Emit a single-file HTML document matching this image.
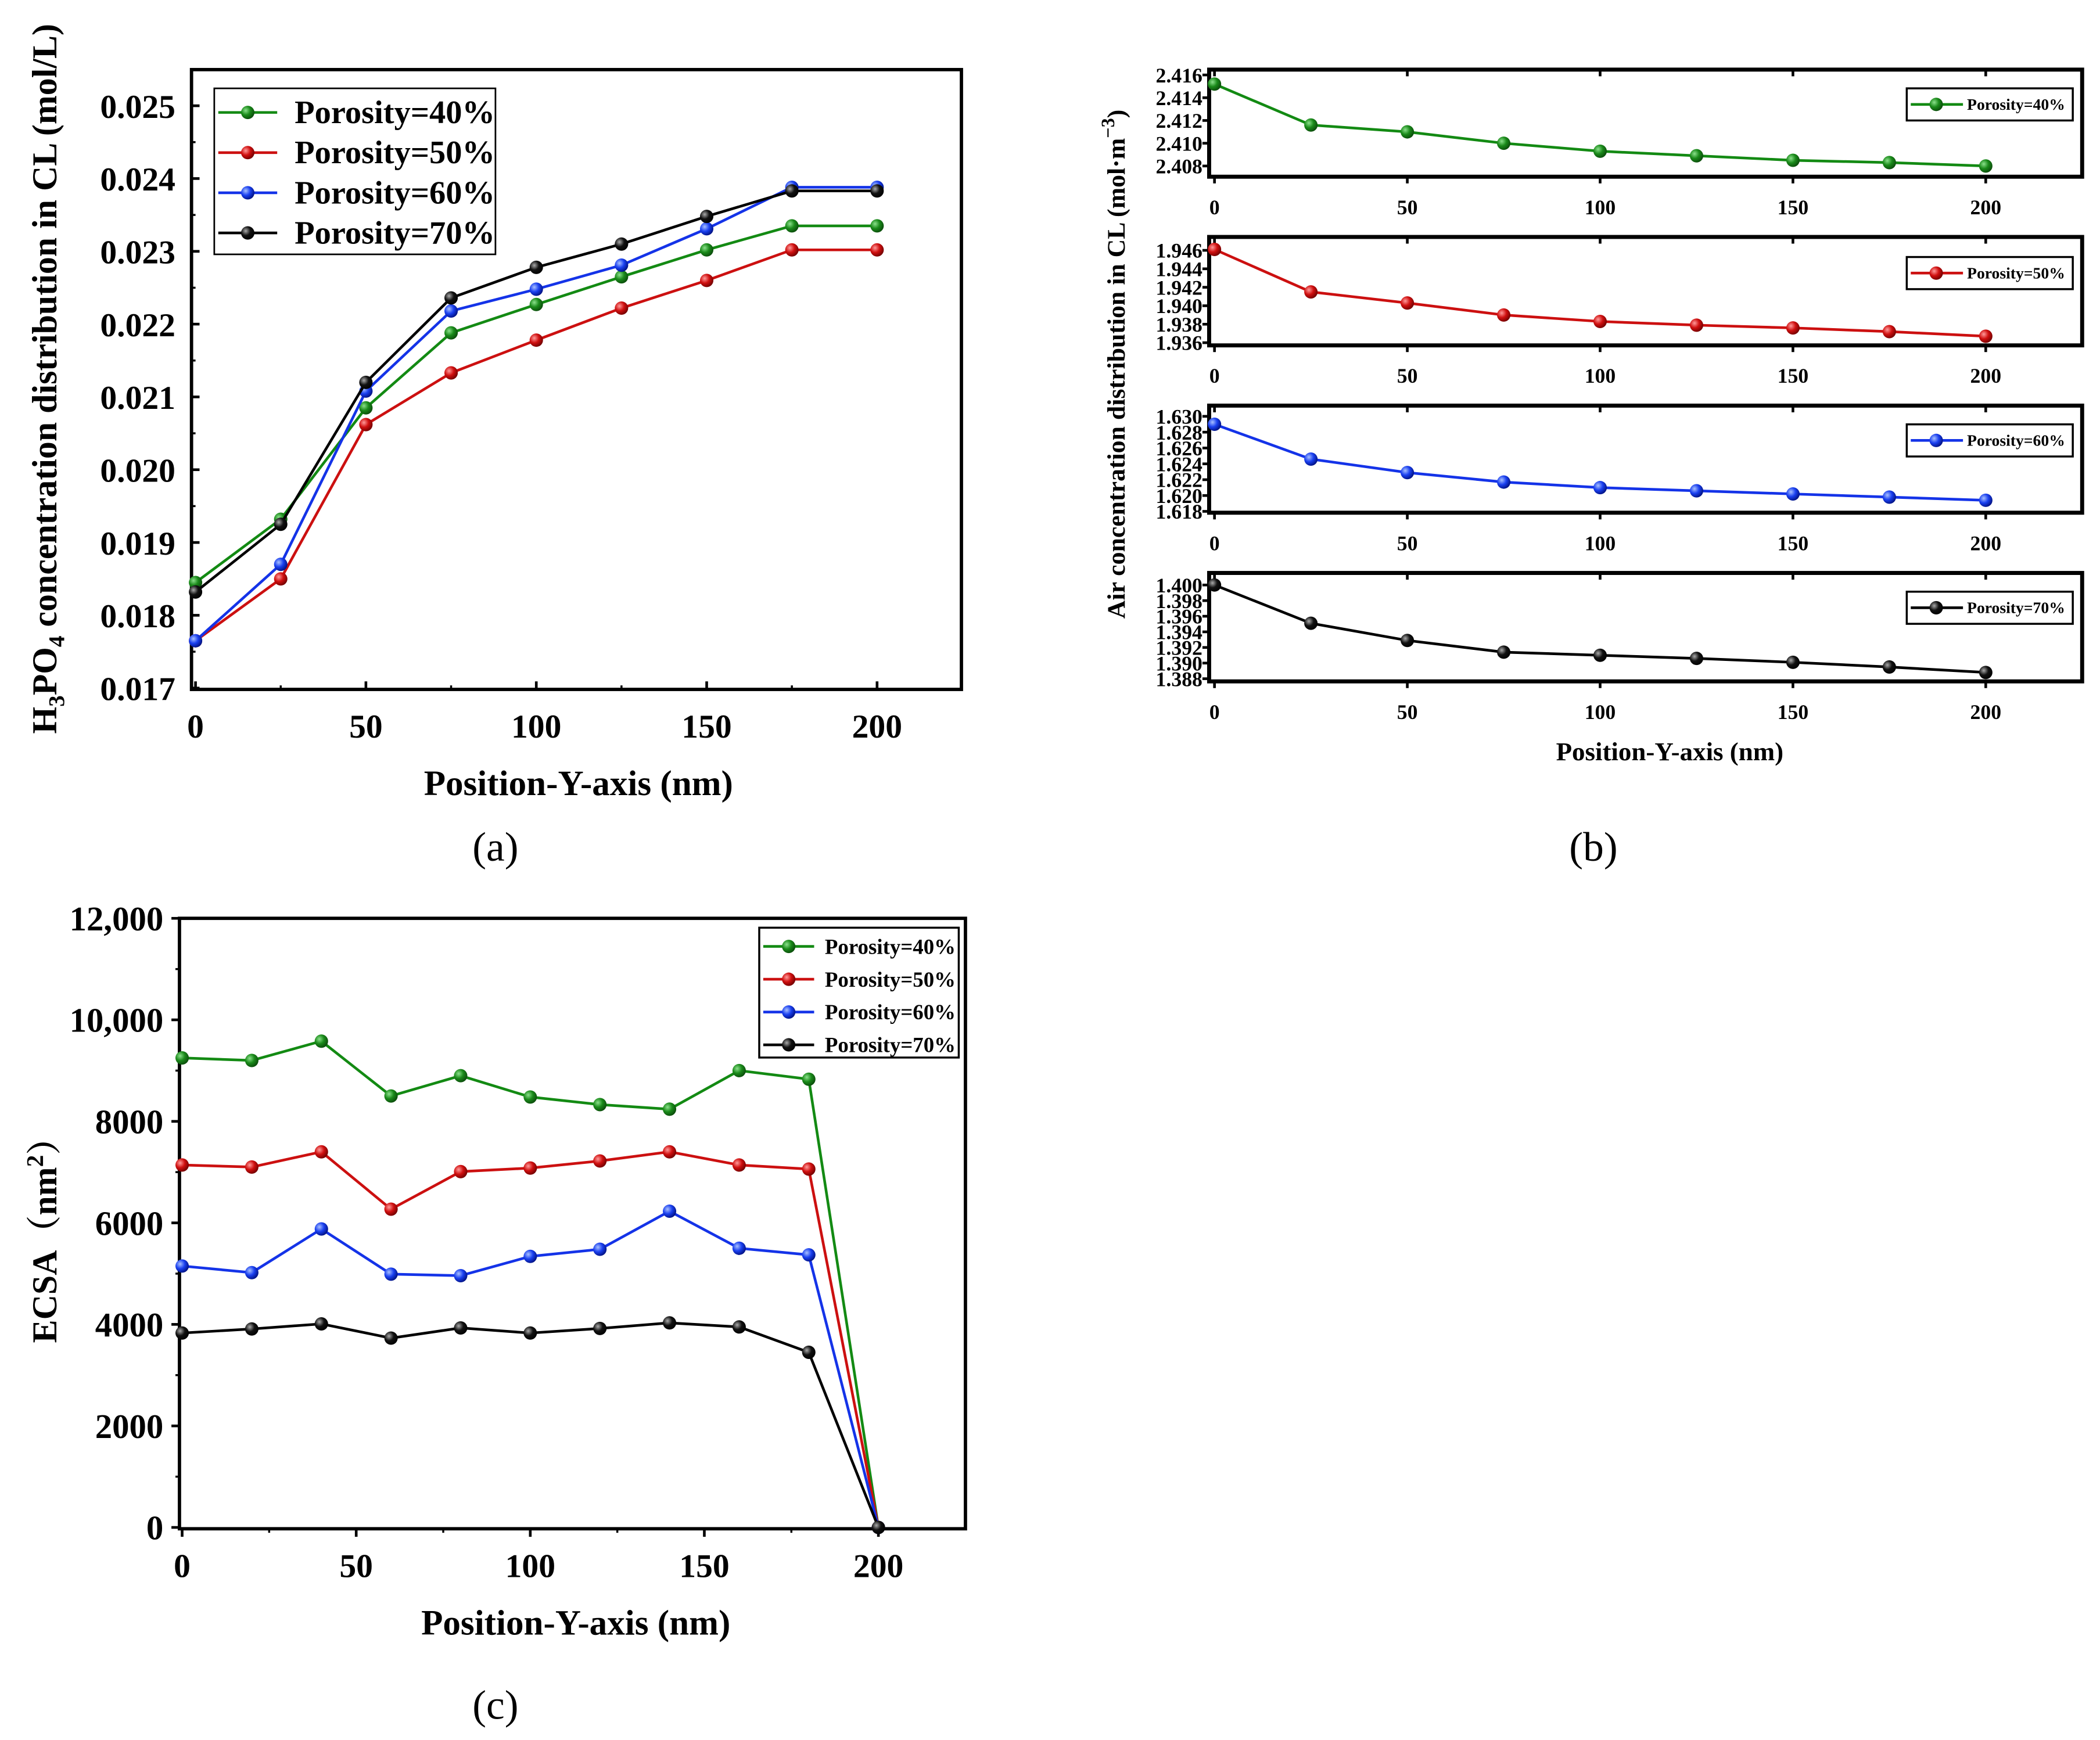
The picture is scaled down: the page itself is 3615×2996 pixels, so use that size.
<!DOCTYPE html>
<html><head><meta charset="utf-8"><style>
html,body{margin:0;padding:0;background:#fff;}
svg{display:block;font-family:"Liberation Serif",serif;font-weight:bold;}
</style></head><body>
<svg id="fig" width="3615" height="2996" viewBox="0 0 1568.3 1299.8" xmlns="http://www.w3.org/2000/svg">
<defs>
<radialGradient id="g-green" cx="0.35" cy="0.35" r="0.7"><stop offset="0" stop-color="#8be08b"/><stop offset="0.5" stop-color="#1a8a1a"/><stop offset="1" stop-color="#0a4a0a"/></radialGradient>
<radialGradient id="g-red" cx="0.35" cy="0.35" r="0.7"><stop offset="0" stop-color="#ff9a9a"/><stop offset="0.5" stop-color="#d01010"/><stop offset="1" stop-color="#700000"/></radialGradient>
<radialGradient id="g-blue" cx="0.35" cy="0.35" r="0.7"><stop offset="0" stop-color="#a8c0ff"/><stop offset="0.5" stop-color="#1a40f0"/><stop offset="1" stop-color="#001080"/></radialGradient>
<radialGradient id="g-black" cx="0.35" cy="0.35" r="0.7"><stop offset="0" stop-color="#aaaaaa"/><stop offset="0.5" stop-color="#111111"/><stop offset="1" stop-color="#000000"/></radialGradient>
</defs>
</svg>
<script>
// ---------- data: panel (a) ----------
const aX = [0, 25, 50, 75, 100, 125, 150, 175, 200];
const aP40 = [0.01845, 0.01932, 0.02085, 0.02188, 0.02227, 0.02265, 0.02302, 0.02335, 0.02335];
const aP50 = [0.01765, 0.01850, 0.02062, 0.02133, 0.02178, 0.02222, 0.02260, 0.02302, 0.02302];
const aP60 = [0.01765, 0.01870, 0.02108, 0.02218, 0.02248, 0.02281, 0.02331, 0.02388, 0.02388];
const aP70 = [0.01832, 0.01925, 0.02120, 0.02236, 0.02278, 0.02310, 0.02348, 0.02383, 0.02383];
const aYTicks = [0.017, 0.018, 0.019, 0.020, 0.021, 0.022, 0.023, 0.024, 0.025];
const aXTicks = [0, 50, 100, 150, 200];
// ---------- data: panel (b) ----------
const bX = [0, 25, 50, 75, 100, 125, 150, 175, 200];
const bP40 = [2.4152, 2.4116, 2.4110, 2.4100, 2.4093, 2.4089, 2.4085, 2.4083, 2.4080];
const bP50 = [1.9461, 1.9415, 1.9403, 1.9390, 1.9383, 1.9379, 1.9376, 1.9372, 1.9367];
const bP60 = [1.6290, 1.6246, 1.6229, 1.6217, 1.6210, 1.6206, 1.6202, 1.6198, 1.6194];
const bP70 = [1.4000, 1.3951, 1.3929, 1.3914, 1.3910, 1.3906, 1.3901, 1.3895, 1.3888];
const bTicks40 = [2.408, 2.410, 2.412, 2.414, 2.416];
const bTicks50 = [1.936, 1.938, 1.940, 1.942, 1.944, 1.946];
const bTicks60 = [1.618, 1.620, 1.622, 1.624, 1.626, 1.628, 1.630];
const bTicks70 = [1.388, 1.390, 1.392, 1.394, 1.396, 1.398, 1.400];
const bXTicks = [0, 50, 100, 150, 200];
// ---------- data: panel (c) ----------
const cX = [0, 20, 40, 60, 80, 100, 120, 140, 160, 180, 200];
const cP40 = [9250, 9200, 9580, 8500, 8900, 8480, 8330, 8240, 9000, 8830, 0];
const cP50 = [7140, 7100, 7400, 6270, 7010, 7080, 7220, 7400, 7140, 7060, 0];
const cP60 = [5150, 5020, 5880, 4990, 4960, 5340, 5480, 6230, 5500, 5370, 0];
const cP70 = [3830, 3910, 4010, 3730, 3930, 3830, 3920, 4030, 3950, 3450, 0];
const cYTicks = [0, 2000, 4000, 6000, 8000, 10000, 12000];
const cYLabels = ['0', '2000', '4000', '6000', '8000', '10,000', '12,000'];
const cXTicks = [0, 50, 100, 150, 200];
const legendLabels = ['Porosity=40%', 'Porosity=50%', 'Porosity=60%', 'Porosity=70%'];

const NS = 'http://www.w3.org/2000/svg';
const svg = document.getElementById('fig');
const COL = {green:'#138a13', red:'#cc1010', blue:'#1433e8', black:'#000'};
function el(tag, attrs, parent) {
  const e = document.createElementNS(NS, tag);
  for (const k in attrs) e.setAttribute(k, attrs[k]);
  (parent || svg).appendChild(e);
  return e;
}
function lin(d0, d1, r0, r1) { return v => r0 + (v - d0) * (r1 - r0) / (d1 - d0); }
function txt(s, x, y, size, anchor, parent) {
  const t = el('text', {x: x, y: y, 'font-size': size, 'text-anchor': anchor || 'middle', fill: '#000'}, parent);
  t.textContent = s;
  return t;
}
function series(g, xs, ys, sx, sy, color, r, name) {
  const sg = el('g', {}, g);
  
  
  const pts = xs.map((x, i) => sx(x) + ',' + sy(ys[i])).join(' ');
  const pl = el('polyline', {points: pts, fill: 'none', stroke: COL[color], 'stroke-width': 2}, sg);
  
  
  xs.forEach((x, i) => {
    const c = el('circle', {cx: sx(x), cy: sy(ys[i]), r: r, fill: 'url(#g-' + color + ')'}, sg);
    
    
  });
}
function frame(g, L, T, R, B, w) {
  const f = el('rect', {x: L, y: T, width: R - L, height: B - T, fill: 'none', stroke: '#000', 'stroke-width': w}, g);
  
  
}

// ================= Panel (a) =================
(function () {
  const g = el('g', {});
  
  
  const L = 143, R = 718, T = 52, B = 515;
  const sx = lin(0, 200, 146, 655), sy = lin(0.017, 0.025, 514, 79);
  frame(g, L, T, R, B, 2.5);
  aYTicks.forEach(v => {
    el('line', {x1: L, x2: L + 6, y1: sy(v), y2: sy(v), stroke: '#000', 'stroke-width': 2}, g);
    const t = txt(v.toFixed(3), L - 12, sy(v) + 9, 25, 'end', g);
    
    
  });
  for (let v = 0.0175; v < 0.025; v += 0.001) el('line', {x1: L, x2: L + 3, y1: sy(v), y2: sy(v), stroke: '#000', 'stroke-width': 1.5}, g);
  aXTicks.forEach(v => {
    el('line', {x1: sx(v), x2: sx(v), y1: B, y2: B - 6, stroke: '#000', 'stroke-width': 2}, g);
    const t = txt(String(v), sx(v), B + 36, 25, 'middle', g);
    
    
  });
  for (let v = 25; v < 225; v += 50) el('line', {x1: sx(v), x2: sx(v), y1: B, y2: B - 3, stroke: '#000', 'stroke-width': 1.5}, g);
  series(g, aX, aP40, sx, sy, 'green', 5, 'series-porosity-40');
  series(g, aX, aP50, sx, sy, 'red', 5, 'series-porosity-50');
  series(g, aX, aP60, sx, sy, 'blue', 5, 'series-porosity-60');
  series(g, aX, aP70, sx, sy, 'black', 5, 'series-porosity-70');
  const xt = txt('Position-Y-axis (nm)', 432, 594, 26.5, 'middle', g);
  
  
  const yt = el('text', {x: 0, y: 0, 'font-size': 26, 'text-anchor': 'middle', transform: 'translate(42,283) rotate(-90)'}, g);
  yt.innerHTML = 'H<tspan font-size="17" dy="6">3</tspan><tspan dy="-6">PO</tspan><tspan font-size="17" dy="6">4</tspan><tspan dy="-6"> concentration distribution in CL (mol/L)</tspan>';
  
  
  const lg = el('g', {}, g);
  
  
  el('rect', {x: 160, y: 66, width: 210, height: 124, fill: '#fff', stroke: '#000', 'stroke-width': 1.2}, lg);
  ['green', 'red', 'blue', 'black'].forEach((c, i) => {
    const y = 84 + i * 30;
    el('line', {x1: 163, x2: 207, y1: y, y2: y, stroke: COL[c], 'stroke-width': 2}, lg);
    el('circle', {cx: 185, cy: y, r: 5, fill: 'url(#g-' + c + ')'}, lg);
    const t = txt(legendLabels[i], 220, y + 8, 24.5, 'start', lg);
    
    
  });
  const cap = txt('(a)', 370, 643, 31, 'middle', g);
  cap.setAttribute('font-weight', 'normal');
  
  
})();

// ================= Panel (b) =================
(function () {
  const g = el('g', {});
  
  
  const L = 903, R = 1555;
  const sx = lin(0, 200, 907, 1483);
  const subs = [
    {T: 52, B: 132, ys: bP40, ticks: bTicks40, t0: 2.408, t1: 2.416, p0: 124, p1: 56, c: 'green', lab: legendLabels[0], ly: 66},
    {T: 177, B: 258, ys: bP50, ticks: bTicks50, t0: 1.936, t1: 1.946, p0: 256, p1: 187, c: 'red', lab: legendLabels[1], ly: 192},
    {T: 303, B: 383, ys: bP60, ticks: bTicks60, t0: 1.618, t1: 1.630, p0: 382, p1: 311, c: 'blue', lab: legendLabels[2], ly: 317},
    {T: 428, B: 509, ys: bP70, ticks: bTicks70, t0: 1.388, t1: 1.400, p0: 507, p1: 437, c: 'black', lab: legendLabels[3], ly: 442}
  ];
  subs.forEach((s, k) => {
    const sg = el('g', {}, g);
    
    
    const sy = lin(s.t0, s.t1, s.p0, s.p1);
    frame(sg, L, s.T, R, s.B, 3);
    s.ticks.forEach(v => {
      el('line', {x1: L, x2: L - 5, y1: sy(v), y2: sy(v), stroke: '#000', 'stroke-width': 2}, sg);
      const t = txt(v.toFixed(3), L - 5, sy(v) + 5.5, 15.5, 'end', sg);
      
      
    });
    bXTicks.forEach(v => {
      el('line', {x1: sx(v), x2: sx(v), y1: s.B, y2: s.B + 5, stroke: '#000', 'stroke-width': 2}, sg);
      el('line', {x1: sx(v), x2: sx(v), y1: s.T, y2: s.T + 5, stroke: '#000', 'stroke-width': 2}, sg);
      const t = txt(String(v), sx(v), s.B + 28, 15.5, 'middle', sg);
      
      
    });
    series(sg, bX, s.ys, sx, sy, s.c, 5, 'series-porosity-' + (40 + k * 10));
    const lg = el('g', {}, sg);
    
    
    el('rect', {x: 1424, y: s.ly, width: 124, height: 24, fill: '#fff', stroke: '#000', 'stroke-width': 1.5}, lg);
    el('line', {x1: 1427, x2: 1466, y1: s.ly + 12, y2: s.ly + 12, stroke: COL[s.c], 'stroke-width': 2}, lg);
    el('circle', {cx: 1446, cy: s.ly + 12, r: 5, fill: 'url(#g-' + s.c + ')'}, lg);
    const t = txt(s.lab, 1469, s.ly + 16, 12, 'start', lg);
    
    
  });
  const xt = txt('Position-Y-axis (nm)', 1247, 568, 19.5, 'middle', g);
  
  
  const yt = el('text', {x: 0, y: 0, 'font-size': 19, 'text-anchor': 'middle', transform: 'translate(840,272) rotate(-90)'}, g);
  yt.innerHTML = 'Air concentration distribution in CL (mol·m<tspan font-size="14" dy="-8">−3</tspan><tspan dy="8">)</tspan>';
  
  
  const cap = txt('(b)', 1190, 643, 31, 'middle', g);
  cap.setAttribute('font-weight', 'normal');
  
  
})();

// ================= Panel (c) =================
(function () {
  const g = el('g', {});
  
  
  const L = 134, R = 721, T = 686, B = 1142;
  const sx = lin(0, 200, 136, 656), sy = lin(0, 12000, 1141, 686);
  frame(g, L, T, R, B, 2.5);
  cYTicks.forEach((v, i) => {
    el('line', {x1: L, x2: L - 6, y1: sy(v), y2: sy(v), stroke: '#000', 'stroke-width': 2}, g);
    const t = txt(cYLabels[i], L - 12, sy(v) + 9, 25.5, 'end', g);
    
    
  });
  for (let v = 1000; v < 12000; v += 2000) el('line', {x1: L, x2: L - 3, y1: sy(v), y2: sy(v), stroke: '#000', 'stroke-width': 1.5}, g);
  cXTicks.forEach(v => {
    el('line', {x1: sx(v), x2: sx(v), y1: B, y2: B + 6, stroke: '#000', 'stroke-width': 2}, g);
    const t = txt(String(v), sx(v), B + 36, 25, 'middle', g);
    
    
  });
  for (let v = 25; v < 225; v += 50) el('line', {x1: sx(v), x2: sx(v), y1: B, y2: B + 3, stroke: '#000', 'stroke-width': 1.5}, g);
  series(g, cX, cP40, sx, sy, 'green', 5, 'series-porosity-40');
  series(g, cX, cP50, sx, sy, 'red', 5, 'series-porosity-50');
  series(g, cX, cP60, sx, sy, 'blue', 5, 'series-porosity-60');
  series(g, cX, cP70, sx, sy, 'black', 5, 'series-porosity-70');
  const xt = txt('Position-Y-axis (nm)', 430, 1221, 26.5, 'middle', g);
  
  
  const yt = el('text', {x: 0, y: 0, 'font-size': 26, 'text-anchor': 'middle', transform: 'translate(42,920) rotate(-90)'}, g);
  yt.innerHTML = 'ECSA（nm<tspan font-size="18" dy="-10">2</tspan><tspan dy="10">）</tspan>';
  yt.setAttribute('font-family', '"Liberation Serif","Noto Serif CJK SC",serif');
  
  
  const lg = el('g', {}, g);
  
  
  el('rect', {x: 567, y: 693, width: 149, height: 97, fill: '#fff', stroke: '#000', 'stroke-width': 1.5}, lg);
  ['green', 'red', 'blue', 'black'].forEach((c, i) => {
    const y = 707 + i * 24.5;
    el('line', {x1: 570, x2: 608, y1: y, y2: y, stroke: COL[c], 'stroke-width': 2}, lg);
    el('circle', {cx: 589, cy: y, r: 5, fill: 'url(#g-' + c + ')'}, lg);
    const t = txt(legendLabels[i], 616, y + 5.5, 16, 'start', lg);
    
    
  });
  const cap = txt('(c)', 370, 1284, 31, 'middle', g);
  cap.setAttribute('font-weight', 'normal');
  
  
})();
</script>
</body></html>
